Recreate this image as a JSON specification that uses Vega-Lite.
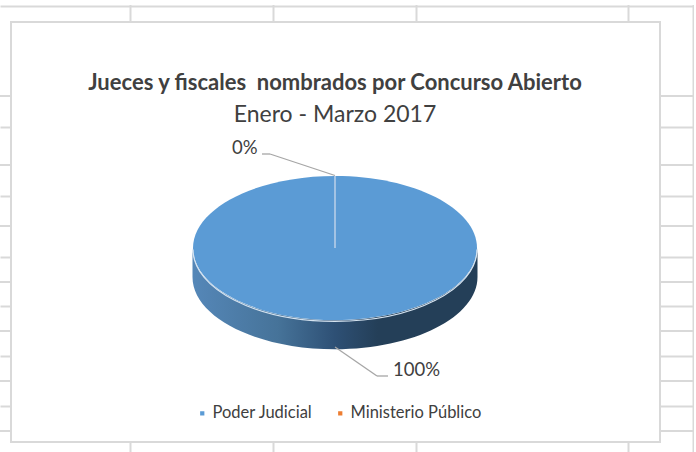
{"$schema":"https://vega.github.io/schema/vega-lite/v6.json","width":696,"height":452,"autosize":"none","padding":0,"background":"white","view":{"stroke":null},
"title":{"text":"Jueces y fiscales \u00a0nombrados por Concurso Abierto","subtitle":"Enero - Marzo 2017","anchor":"middle","frame":"group","dx":-13,"offset":-128,"font":"Lato","fontSize":22,"fontWeight":"bold","color":"#404040","subtitleFont":"Lato","subtitleFontSize":23,"subtitleColor":"#404040","subtitlePadding":9},
"data":{"values":[{"category":"Poder Judicial","share":1},{"category":"Ministerio Público","share":0}]},
"layer":[
{"transform":[{"filter":"datum.share===1"}],"mark":{"type":"rule","color":"#d9d9d9","strokeWidth":2},"encoding":{"y":{"datum":96,"type":"quantitative","scale":{"domain":[0,452],"reverse":true}}}},
{"transform":[{"filter":"datum.share===1"}],"mark":{"type":"rule","color":"#d9d9d9","strokeWidth":2},"encoding":{"y":{"datum":165,"type":"quantitative","scale":{"domain":[0,452],"reverse":true}}}},
{"transform":[{"filter":"datum.share===1"}],"mark":{"type":"rule","color":"#d9d9d9","strokeWidth":2},"encoding":{"y":{"datum":226,"type":"quantitative","scale":{"domain":[0,452],"reverse":true}}}},
{"transform":[{"filter":"datum.share===1"}],"mark":{"type":"rule","color":"#d9d9d9","strokeWidth":2},"encoding":{"y":{"datum":282,"type":"quantitative","scale":{"domain":[0,452],"reverse":true}}}},
{"transform":[{"filter":"datum.share===1"}],"mark":{"type":"rule","color":"#d9d9d9","strokeWidth":2},"encoding":{"y":{"datum":331,"type":"quantitative","scale":{"domain":[0,452],"reverse":true}}}},
{"transform":[{"filter":"datum.share===1"}],"mark":{"type":"rule","color":"#d9d9d9","strokeWidth":2},"encoding":{"y":{"datum":381,"type":"quantitative","scale":{"domain":[0,452],"reverse":true}}}},
{"transform":[{"filter":"datum.share===1"}],"mark":{"type":"rule","color":"#d9d9d9","strokeWidth":2},"encoding":{"y":{"datum":431,"type":"quantitative","scale":{"domain":[0,452],"reverse":true}}}},
{"transform":[{"filter":"datum.share===1"}],"mark":{"type":"rect","fill":"white","stroke":"#d9d9d9","strokeWidth":2},"encoding":{"x":{"datum":11,"type":"quantitative","scale":{"domain":[0,696]},"axis":{"grid":true,"values":[130,273,416,628,693],"labels":false,"ticks":false,"domain":false,"title":null,"gridColor":"#d9d9d9","gridWidth":2}},"x2":{"datum":660},"y":{"datum":22,"type":"quantitative","scale":{"domain":[0,452],"reverse":true},"axis":{"grid":true,"values":[6,127,196,257,306,356,406],"labels":false,"ticks":false,"domain":false,"title":null,"gridColor":"#d9d9d9","gridWidth":2}},"y2":{"datum":442}}},
{"transform":[{"filter":"datum.share===1"}],"mark":{"type":"rect","fill":"white"},"encoding":{"x":{"datum":0,"type":"quantitative","scale":{"domain":[0,696]}},"x2":{"datum":696},"y":{"datum":0,"type":"quantitative","scale":{"domain":[0,452],"reverse":true}},"y2":{"datum":5}}},
{"transform":[{"filter":"datum.share===1"}],"mark":{"type":"rect","fill":"white"},"encoding":{"x":{"datum":694,"type":"quantitative","scale":{"domain":[0,696]}},"x2":{"datum":696},"y":{"datum":0,"type":"quantitative","scale":{"domain":[0,452],"reverse":true}},"y2":{"datum":452}}},
{"transform":[{"filter":"datum.share===1"}],"mark":{"type":"point","filled":true,"opacity":1,"size":81225,"shape":"M-1 0L-1 .204A1 .507 0 0 0 1 .204L1 0A1 .507 0 0 1 -1 0Z","color":{"gradient":"linear","x1":0,"x2":1,"y1":0,"y2":0,"stops":[{"offset":0,"color":"#5587b8"},{"offset":0.3,"color":"#467399"},{"offset":0.5,"color":"#2e5075"},{"offset":0.65,"color":"#243f58"},{"offset":1,"color":"#243f58"}]}},"encoding":{"x":{"datum":335,"type":"quantitative","scale":{"domain":[0,696]}},"y":{"datum":248,"type":"quantitative","scale":{"domain":[0,452],"reverse":true}}}},
{"transform":[{"filter":"datum.share===1"}],"mark":{"type":"point","filled":true,"opacity":1,"size":80656,"shape":"M-1 0A1 .507 0 0 1 1 0A1 .507 0 0 1 -1 0Z"},"encoding":{"x":{"datum":335,"type":"quantitative","scale":{"domain":[0,696]}},"y":{"datum":248,"type":"quantitative","scale":{"domain":[0,452],"reverse":true}},"color":{"field":"category","type":"nominal","scale":{"domain":["Poder Judicial","Ministerio Público"],"range":["#5b9bd5","#ed7d31"]},"legend":{"title":null,"orient":"none","legendX":194,"legendY":405,"direction":"horizontal","columns":2,"symbolType":"square","symbolSize":18,"symbolStrokeWidth":0,"labelFont":"Lato","labelFontSize":16.5,"labelColor":"#404040","labelOffset":2,"columnPadding":19}}}},
{"transform":[{"filter":"datum.share===1"}],"mark":{"type":"point","filled":false,"fill":null,"opacity":1,"size":80656,"shape":"M-1 .01A1 .507 0 0 0 1 .01","stroke":"#d5e3f0","strokeWidth":1.2,"strokeOpacity":1},"encoding":{"x":{"datum":335,"type":"quantitative","scale":{"domain":[0,696]}},"y":{"datum":248,"type":"quantitative","scale":{"domain":[0,452],"reverse":true}}}},
{"transform":[{"filter":"datum.share===1"}],"mark":{"type":"rule","color":"#a3c3e4","strokeWidth":2},"encoding":{"x":{"datum":335,"type":"quantitative","scale":{"domain":[0,696]}},"y":{"datum":176,"type":"quantitative","scale":{"domain":[0,452],"reverse":true}},"y2":{"datum":248}}},
{"transform":[{"filter":"datum.share===1"}],"mark":{"type":"rule","color":"#a6a6a6","strokeWidth":1.3},"encoding":{"x":{"datum":262,"type":"quantitative","scale":{"domain":[0,696]}},"x2":{"datum":270},"y":{"datum":154,"type":"quantitative","scale":{"domain":[0,452],"reverse":true}},"y2":{"datum":154}}},
{"transform":[{"filter":"datum.share===1"}],"mark":{"type":"rule","color":"#a6a6a6","strokeWidth":1.3},"encoding":{"x":{"datum":270,"type":"quantitative","scale":{"domain":[0,696]}},"x2":{"datum":335},"y":{"datum":154,"type":"quantitative","scale":{"domain":[0,452],"reverse":true}},"y2":{"datum":175.5}}},
{"transform":[{"filter":"datum.share===1"}],"mark":{"type":"rule","color":"#a6a6a6","strokeWidth":1.3},"encoding":{"x":{"datum":335,"type":"quantitative","scale":{"domain":[0,696]}},"x2":{"datum":377},"y":{"datum":347,"type":"quantitative","scale":{"domain":[0,452],"reverse":true}},"y2":{"datum":376}}},
{"transform":[{"filter":"datum.share===1"}],"mark":{"type":"rule","color":"#a6a6a6","strokeWidth":1.3},"encoding":{"x":{"datum":377,"type":"quantitative","scale":{"domain":[0,696]}},"x2":{"datum":388},"y":{"datum":376,"type":"quantitative","scale":{"domain":[0,452],"reverse":true}},"y2":{"datum":376}}},
{"transform":[{"filter":"datum.share===1"}],"mark":{"type":"text","align":"left","baseline":"alphabetic","font":"Lato","fontSize":18.5,"color":"#404040"},"encoding":{"x":{"datum":393,"type":"quantitative","scale":{"domain":[0,696]}},"y":{"datum":376,"type":"quantitative","scale":{"domain":[0,452],"reverse":true}},"text":{"field":"share","type":"quantitative","format":".0%"}}},
{"transform":[{"filter":"datum.share===0"}],"mark":{"type":"text","align":"left","baseline":"alphabetic","font":"Lato","fontSize":18.5,"color":"#404040"},"encoding":{"x":{"datum":232,"type":"quantitative","scale":{"domain":[0,696]}},"y":{"datum":154,"type":"quantitative","scale":{"domain":[0,452],"reverse":true}},"text":{"field":"share","type":"quantitative","format":".0%"}}}
]}
